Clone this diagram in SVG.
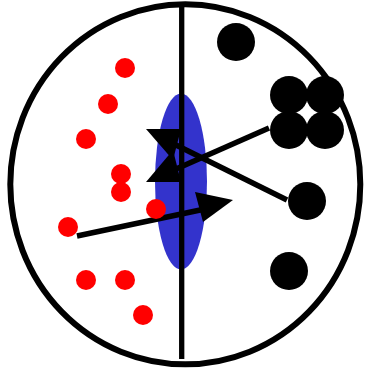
<svg xmlns="http://www.w3.org/2000/svg" width="365" height="371" viewBox="0 0 365 371">
<style>
.red{fill:#ff0000}
.blk{fill:#000}
.ln{stroke:#000;stroke-width:5.5;fill:none}
</style>
<rect width="365" height="371" fill="#fff"/>
<g id="boundary">
<ellipse cx="185.3" cy="184.3" rx="175" ry="180" fill="none" stroke="#000" stroke-width="6"/>
</g>
<g id="region">
<ellipse cx="181" cy="181.5" rx="26" ry="88" fill="#3333cc"/>
</g>
<g id="divider">
<line x1="181.7" y1="6" x2="181.7" y2="359" stroke="#000" stroke-width="5.3"/>
</g>
<g id="red-points">
<circle class="red" cx="125" cy="68" r="10"/>
<circle class="red" cx="108" cy="104" r="10"/>
<circle class="red" cx="86" cy="139" r="10"/>
<circle class="red" cx="121" cy="174" r="10"/>
<circle class="red" cx="121" cy="192" r="10"/>
<circle class="red" cx="68" cy="227" r="10"/>
<circle class="red" cx="86" cy="280" r="10"/>
<circle class="red" cx="125" cy="280" r="10"/>
<circle class="red" cx="143" cy="315" r="10"/>
</g>
<g id="black-points">
<circle class="blk" cx="236" cy="42" r="19"/>
<circle class="blk" cx="289" cy="95" r="19"/>
<circle class="blk" cx="325" cy="95" r="19"/>
<circle class="blk" cx="289" cy="130" r="19"/>
<circle class="blk" cx="325" cy="130" r="19"/>
<circle class="blk" cx="307" cy="201" r="19"/>
<circle class="blk" cx="289" cy="271" r="19"/>
</g>
<g id="connectors">
<line x1="77" y1="236" x2="205" y2="209" class="ln"/>
<polygon class="blk" points="195,192 233,200 203,222"/>
<line x1="269" y1="128" x2="176" y2="169" class="ln"/>
<polygon class="blk" points="146,182 173,150 181,182"/>
<line x1="287" y1="200" x2="172" y2="143" class="ln"/>
<polygon class="blk" points="146,129 181,129 173,160"/>
</g>
<g id="red-point-front">
<circle class="red" cx="156" cy="209" r="10"/>
</g>
</svg>
